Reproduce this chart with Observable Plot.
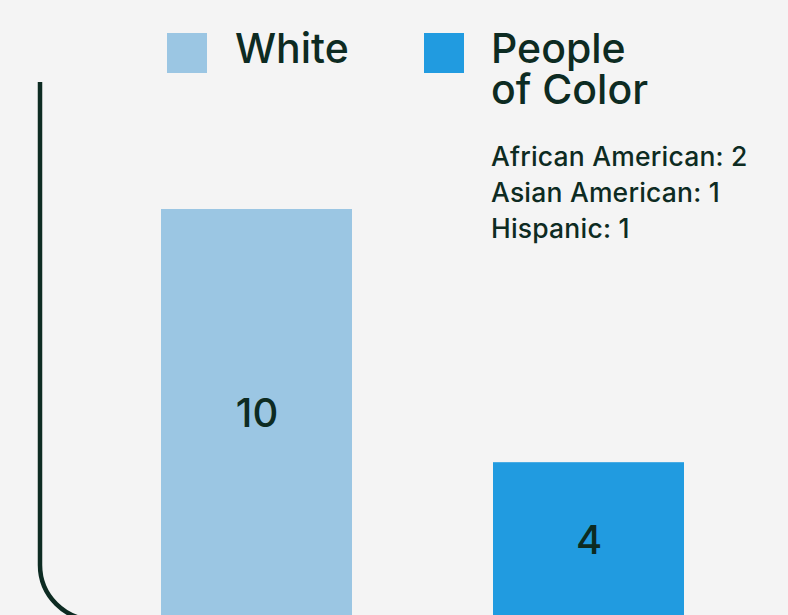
<!DOCTYPE html>
<html>
<head>
<meta charset="utf-8">
<script src="https://cdn.jsdelivr.net/npm/d3@7"></script>
<script src="https://cdn.jsdelivr.net/npm/@observablehq/plot@0.6"></script>
<style>
  html, body { margin: 0; padding: 0; background: #f4f4f4; overflow: hidden; }
  body { width: 788px; height: 615px; position: relative; font-family: Inter, "Noto Sans", sans-serif; color: #0d2b22; }
  #chart { position: absolute; left: 0; top: 0; }
  .legend { position: absolute; top: 0; left: 0; }
  .swatch { position: absolute; width: 40px; height: 40px; }
  .lab { position: absolute; font-size: 41px; font-weight: 500; line-height: 41px; white-space: nowrap; }
  .breakdown { position: absolute; left: 491px; top: 138px; font-size: 26.5px; font-weight: 500; line-height: 36px; letter-spacing: 0.2px; white-space: nowrap; }
</style>
</head>
<body>
<div id="chart"></div>
<div class="legend" id="legend"></div>
<div class="breakdown" id="breakdown"></div>
<script>
const categories = ["White", "People of Color"];
const values = [10, 4];
const colors = ["#9bc6e3", "#219be0"];
const legendLines = [["White"], ["People", "of Color"]];
const breakdownLabels = ["African American", "Asian American", "Hispanic"];
const breakdownValues = [2, 1, 1];

const data = categories.map((c, i) => ({category: c, value: values[i]}));

const frameLine = () => {
  const p = d3.create("svg:path")
    .attr("d", "M40,82 L40,565 A55,55 0 0 0 95,620 L788,620")
    .attr("fill", "none")
    .attr("stroke", "#0d2b22")
    .attr("stroke-width", 4.5);
  return p.node();
};

const plot = Plot.plot({
  width: 788,
  height: 631,
  marginLeft: 161,
  marginRight: 104,
  marginTop: 209,
  marginBottom: 0,
  style: {background: "#f4f4f4", fontFamily: "Inter, 'Noto Sans', sans-serif"},
  x: {domain: categories, paddingInner: 0.425, paddingOuter: 0, axis: null},
  y: {domain: [0, 10], axis: null},
  color: {domain: categories, range: colors},
  marks: [
    frameLine,
    Plot.barY(data, {x: "category", y: "value", fill: "category"}),
    Plot.text(data, {x: "category", y: d => d.value / 2, text: d => String(d.value), dy: -6, fontSize: 40, fontWeight: 500, fill: "#0d2b22"})
  ]
});
document.getElementById("chart").appendChild(plot);

const legend = document.getElementById("legend");
const legendPos = [{sx: 167, tx: 235}, {sx: 424, tx: 491}];
categories.forEach((c, i) => {
  const sw = document.createElement("div");
  sw.className = "swatch";
  sw.style.left = legendPos[i].sx + "px";
  sw.style.top = "33px";
  sw.style.background = colors[i];
  legend.appendChild(sw);
  legendLines[i].forEach((line, j) => {
    const lb = document.createElement("div");
    lb.className = "lab";
    lb.style.left = legendPos[i].tx + "px";
    lb.style.top = (28 + j * 41) + "px";
    lb.textContent = line;
    legend.appendChild(lb);
  });
});

document.getElementById("breakdown").innerHTML =
  breakdownLabels.map((l, i) => `${l}: ${breakdownValues[i]}`).join("<br>");
</script>
</body>
</html>
